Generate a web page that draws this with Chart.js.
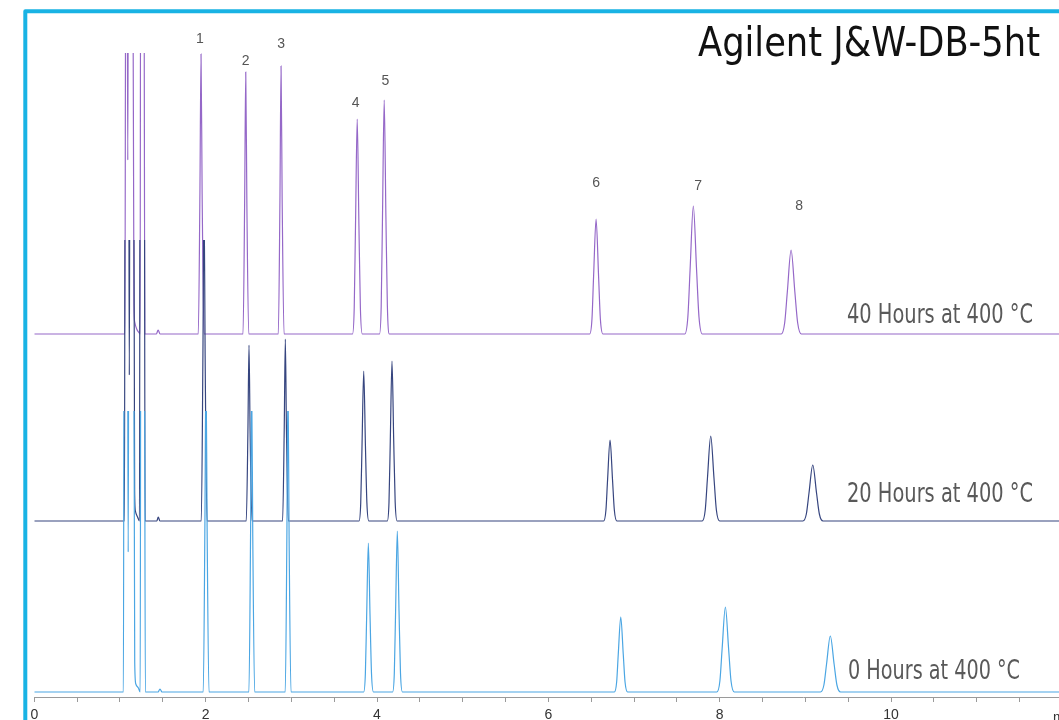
<!DOCTYPE html>
<html><head><meta charset="utf-8">
<script src="https://cdn.jsdelivr.net/npm/chart.js@4"></script>
<style>html,body{margin:0;padding:0;background:#fff;}#wrap{width:1059px;height:720px;position:relative;overflow:hidden;}</style>
</head><body><div id="wrap"><canvas id="c" width="1059" height="720"></canvas></div>
<script>
// ---- data (time in min, signal height above each trace's own baseline) ----
const chartTitle = 'Agilent J&W-DB-5ht';
const xAxisUnit = 'min';
const xTickLabels = [0, 2, 4, 6, 8, 10];
const traceNames = ['40 Hours at 400 °C', '20 Hours at 400 °C', '0 Hours at 400 °C'];
const traceOffsets = [363, 176, 5];
const fullScale = 281; // detector ceiling above each baseline

const trace40h = [
  [0,0],[1.058,0],[1.067,400],[1.084,400],[1.091,174],[1.098,400],[1.150,400],[1.163,30],[1.172,12],[1.195,5],[1.225,1],[1.235,0],[1.241,400],[1.280,400],[1.290,0],[1.425,0],[1.445,4],[1.468,0],
  [1.914,0],[1.933,140],[1.946,280],[1.959,140],[1.981,0],
  [2.436,0],[2.455,131],[2.468,262],[2.481,131],[2.503,0],
  [2.848,0],[2.867,134],[2.880,268],[2.893,134],[2.915,0],
  [3.714,0],[3.734,26],[3.749,108],[3.769,215],[3.789,108],[3.806,26],[3.829,0],
  [4.029,0],[4.049,28],[4.064,117],[4.084,234],[4.104,117],[4.121,28],[4.144,0],
  [6.482,0],[6.509,15],[6.528,58],[6.557,115],[6.586,58],[6.607,15],[6.637,0],
  [7.592,0],[7.628,17],[7.654,64],[7.692,128],[7.730,64],[7.758,17],[7.797,0],
  [8.718,0],[8.758,11],[8.789,42],[8.833,84],[8.877,42],[8.910,11],[8.953,0],
  [11.96,0]
];
const trace20h = [
  [0,0],[1.052,0],[1.060,400],[1.102,400],[1.109,146],[1.116,400],[1.160,400],[1.171,30],[1.180,10],[1.205,4],[1.228,0],[1.234,400],[1.284,400],[1.293,0],[1.430,0],[1.447,4],[1.466,0],
  [1.949,0],[1.968,165],[1.981,330],[1.994,165],[2.016,0],
  [2.474,0],[2.493,88],[2.506,176],[2.519,88],[2.541,0],
  [2.898,0],[2.917,91],[2.930,182],[2.943,91],[2.965,0],
  [3.790,0],[3.810,18],[3.825,75],[3.845,150],[3.865,75],[3.882,18],[3.905,0],
  [4.120,0],[4.140,19],[4.155,80],[4.175,160],[4.195,80],[4.212,19],[4.235,0],
  [6.645,0],[6.672,11],[6.691,41],[6.720,81],[6.749,41],[6.770,11],[6.800,0],
  [7.795,0],[7.831,11],[7.857,43],[7.895,85],[7.933,43],[7.961,11],[8.000,0],
  [8.971,0],[9.011,7],[9.042,28],[9.086,56],[9.130,28],[9.163,7],[9.206,0],
  [11.96,0]
];
const trace0h = [
  [0,0],[1.040,0],[1.048,400],[1.088,400],[1.096,140],[1.103,400],[1.160,400],[1.172,30],[1.185,8],[1.215,4],[1.236,0],[1.243,400],[1.285,400],[1.296,0],[1.445,0],[1.467,3],[1.490,0],
  [1.972,0],[1.991,165],[2.004,330],[2.017,165],[2.039,0],
  [2.505,0],[2.524,155],[2.537,310],[2.550,155],[2.572,0],
  [2.929,0],[2.948,155],[2.961,310],[2.974,155],[2.996,0],
  [3.844,0],[3.864,18],[3.879,75],[3.899,149],[3.919,75],[3.936,18],[3.959,0],
  [4.182,0],[4.202,19],[4.217,81],[4.237,161],[4.257,81],[4.274,19],[4.297,0],
  [6.770,0],[6.797,10],[6.816,38],[6.845,75],[6.874,38],[6.895,10],[6.925,0],
  [7.966,0],[8.002,11],[8.028,43],[8.066,85],[8.104,43],[8.132,11],[8.171,0],
  [9.176,0],[9.216,7],[9.247,28],[9.291,56],[9.335,28],[9.368,7],[9.411,0],
  [11.96,0]
];
const peakNumbers = ['1','2','3','4','5','6','7','8'];
const peakLabelTimes = [1.934, 2.468, 2.880, 3.752, 4.097, 6.557, 7.747, 8.926];
const peakLabelLevels = [658, 636, 653, 594, 616, 514, 511, 491];

// ---- styles ----
const traceColors = ['#9568c8', '#36457f', '#4ba6e3'];
const SANS = "'Liberation Sans', Arial, sans-serif";
const NARROW = "'Liberation Sans Narrow', 'DejaVu Sans Condensed', 'Liberation Sans', sans-serif";

const traces = [trace40h, trace20h, trace0h];
const datasets = traces.map((tr, i) => ({
  label: traceNames[i],
  data: tr.map(p => ({x: p[0], y: p[1] + traceOffsets[i]})),
  borderColor: traceColors[i],
  borderWidth: 1.2,
  pointRadius: 0,
  fill: false,
  cubicInterpolationMode: 'monotone',
  ceiling: traceOffsets[i] + fullScale
})).reverse();

function fitText(ctx, text, x, baseline, width, size, family, color) {
  ctx.save();
  ctx.font = size + 'px ' + family;
  const w = ctx.measureText(text).width;
  ctx.translate(x, baseline);
  ctx.scale(width / w, 1);
  ctx.fillStyle = color;
  ctx.textAlign = 'left';
  ctx.textBaseline = 'alphabetic';
  ctx.fillText(text, 0, 0);
  ctx.restore();
}

const ceilingClip = {
  id: 'ceilingClip',
  beforeDatasetDraw(chart, args) {
    const ds = chart.data.datasets[args.index];
    const a = chart.chartArea;
    const top = chart.scales.y.getPixelForValue(ds.ceiling);
    const ctx = chart.ctx;
    ctx.save();
    ctx.beginPath();
    ctx.rect(a.left - 3, top, a.right - a.left + 6, a.bottom - top + 3);
    ctx.clip();
  },
  afterDatasetDraw(chart) { chart.ctx.restore(); }
};

const decorations = {
  id: 'decorations',
  afterDraw(chart) {
    const ctx = chart.ctx;
    const xs = chart.scales.x, ys = chart.scales.y;
    // frame
    ctx.save();
    ctx.strokeStyle = '#19b3e4';
    ctx.lineWidth = 4;
    ctx.lineJoin = 'round';
    ctx.beginPath();
    ctx.moveTo(25.3, 740);
    ctx.lineTo(25.3, 11.3);
    ctx.lineTo(1080, 11.3);
    ctx.stroke();
    ctx.restore();
    // title
    fitText(ctx, chartTitle, 698, 56, 342, 41, NARROW, '#111');
    // trace labels
    const labelPos = [[847, 323, 186], [847, 502, 186], [848, 679, 172]];
    traceNames.forEach((t, i) => fitText(ctx, t, labelPos[i][0], labelPos[i][1], labelPos[i][2], 27, NARROW, '#595959'));
    // peak numbers
    ctx.save();
    ctx.font = '14px ' + SANS;
    ctx.fillStyle = '#555';
    ctx.textAlign = 'center';
    ctx.textBaseline = 'middle';
    peakNumbers.forEach((n, i) => ctx.fillText(n, xs.getPixelForValue(peakLabelTimes[i]), ys.getPixelForValue(peakLabelLevels[i])));
    // axis unit
    ctx.fillStyle = '#333';
    ctx.textAlign = 'left';
    ctx.textBaseline = 'alphabetic';
    ctx.fillText(xAxisUnit, 1053, 722);
    ctx.restore();
  }
};

new Chart(document.getElementById('c'), {
  type: 'line',
  data: { datasets },
  options: {
    responsive: false,
    animation: false,
    events: [],
    layout: { padding: { top: 53, left: 34.3, right: 0, bottom: 0 } },
    plugins: { legend: { display: false }, tooltip: { enabled: false } },
    scales: {
      x: {
        type: 'linear', min: 0, max: 11.96,
        border: { display: true, color: '#9a9a9a', width: 1 },
        grid: { display: true, drawOnChartArea: false, drawTicks: true, tickLength: 5, color: '#9a9a9a' },
        ticks: {
          stepSize: 0.5, autoSkip: false, includeBounds: false, maxRotation: 0,
          color: '#333', font: { family: SANS, size: 14 }, padding: 5,
          callback: v => xTickLabels.find(t => Math.abs(t - v) < 1e-6) !== undefined ? String(Math.round(v)) : ''
        },
        afterFit: s => { s.height = 23; }
      },
      y: { display: false, min: 0, max: 644 }
    }
  },
  plugins: [ceilingClip, decorations]
});
</script></body></html>
